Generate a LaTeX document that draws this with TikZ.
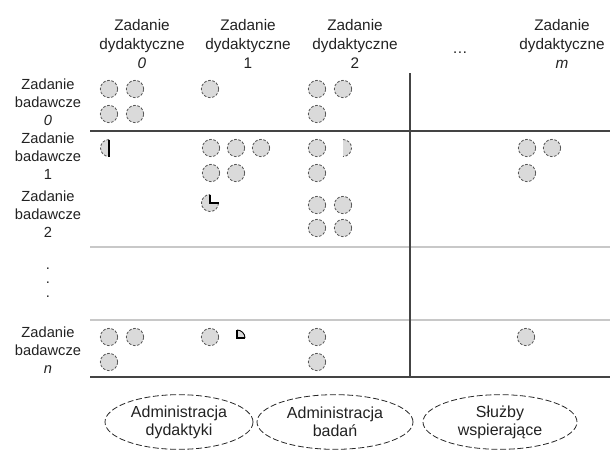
\documentclass[tikz,border=0pt]{standalone}
\usepackage{fontspec}
\setmainfont{Liberation Sans}
\usetikzlibrary{shapes.geometric}
\definecolor{dotfill}{HTML}{DADADA}
\definecolor{dotline}{HTML}{555555}
\definecolor{darkline}{HTML}{444444}
\definecolor{lightline}{HTML}{C8C8C8}
\definecolor{txt}{HTML}{222222}
\begin{document}
\begin{tikzpicture}[x=0.75pt,y=-0.75pt,
  dot/.style={circle,draw=dotline,fill=dotfill,line width=0.6pt,dash pattern=on 2pt off 1.2pt,minimum size=13pt,inner sep=0pt},
  hdr/.style={align=center,text=txt,font=\fontsize{11.5}{14.2}\selectfont,inner sep=0pt},
  rowlbl/.style={align=center,text=txt,font=\fontsize{11}{13.5}\selectfont,inner sep=0pt},
  ell/.style={ellipse,draw=black!85,line width=0.6pt,dash pattern=on 4.5pt off 2pt,align=center,text=txt,font=\fontsize{12}{13.5}\selectfont,minimum height=41pt,inner sep=0pt},
  thickline/.style={draw=darkline,line width=1.1pt},
  thinline/.style={draw=lightline,line width=0.9pt},
  partfill/.style={fill=dotfill},
  partarc/.style={draw=dotline,line width=0.6pt,dash pattern=on 2pt off 1.2pt},
  partedge/.style={draw=black,line width=0.8pt}]
\useasboundingbox (0,0) rectangle (610,455);

% column headers
\node[hdr] (c0) at (142,44) {Zadanie\\dydaktyczne\\\textit{0}};
\node[hdr] (c1) at (248,44) {Zadanie\\dydaktyczne\\1};
\node[hdr] (c2) at (355,44) {Zadanie\\dydaktyczne\\2};
\node[hdr] (cdots) at (460,53) {\dots};
\node[hdr] (cm) at (562,44) {Zadanie\\dydaktyczne\\\textit{m}};

% row labels
\node[rowlbl] (r0) at (48,102) {Zadanie\\badawcze\\\textit{0}};
\node[rowlbl] (r1) at (48,156) {Zadanie\\badawcze\\1};
\node[rowlbl] (r2) at (48,214) {Zadanie\\badawcze\\2};
\node[rowlbl] (rdots) at (48,283) {.\\[-3pt].\\[-3pt].};
\node[rowlbl] (rn) at (48,350) {Zadanie\\badawcze\\\textit{n}};

% grid lines
\draw[thickline] (90,131) -- (610,131);
\draw[thinline] (90,247) -- (610,247);
\draw[thinline] (90,320) -- (610,320);
\draw[thickline] (90,377) -- (610,377);
\draw[thickline] (410,73) -- (410,377);

% dots
\foreach \n/\x/\y in {
  a1/109/89, a2/135/89, a3/109/114, a4/135/114, a5/210/89,
  a6/317/89, a7/343/89, a8/317/114,
  b1/211/148, b2/236/148, b3/261/148, b4/211/173, b5/236/173,
  b6/317/148, b7/317/173, b8/527/148, b9/552/148, b10/527/173,
  d1/317/205, d2/343/205, d3/317/228, d4/343/228,
  e1/109/337, e2/135/337, e3/109/362, e4/210/337,
  e5/317/337, e6/317/362, e7/526/337}
  \node[dot] (\n) at (\x,\y) {};

% partial shapes
% left half (row 1, col 0)
\fill[partfill] (109,139.5) arc[start angle=270,end angle=90,radius=8.5] -- cycle;
\draw[partarc] (109,139.5) arc[start angle=270,end angle=90,radius=8.5];
\draw[partedge] (109,139.5) -- (109,156.5);
% right half (row 1, col 2)
\fill[partfill] (343,139.5) arc[start angle=270,end angle=450,radius=8.5] -- cycle;
\draw[partarc] (343,139.5) arc[start angle=270,end angle=450,radius=8.5];
% three quarters (row 2, col 1)
\fill[partfill] (210,203) -- (218.5,203) arc[start angle=0,end angle=270,radius=8.5] -- cycle;
\draw[partarc] (218.5,203) arc[start angle=0,end angle=270,radius=8.5];
\draw[partedge] (210,194.5) -- (210,203) -- (218.5,203);
% small quarter (row n, col 1)
\fill[partfill] (237,338) -- (237,330) arc[start angle=270,end angle=360,radius=8] -- cycle;
\draw[partedge] (237,330) -- (237,338) -- (245,338);
\draw[draw=black,line width=0.7pt] (237,330) arc[start angle=270,end angle=360,radius=8];

% bottom ellipses
\node[ell,minimum width=111pt] (adyd) at (179,422) {Administracja\\dydaktyki};
\node[ell,minimum width=117pt] (abad) at (335,422) {Administracja\\badań};
\node[ell,minimum width=115.5pt] (sluz) at (500,422) {Służby\\wspierające};
\end{tikzpicture}
\end{document}
